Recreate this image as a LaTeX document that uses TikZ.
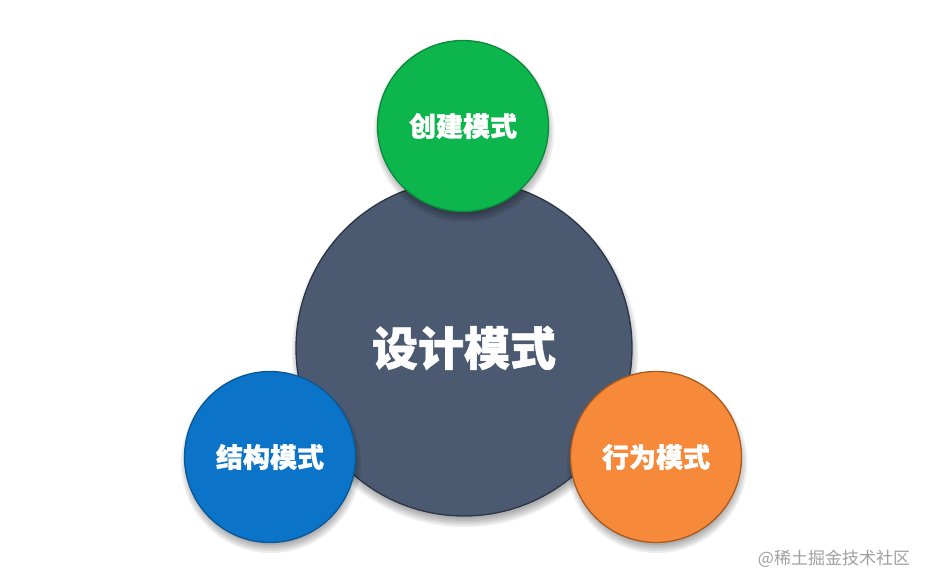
\documentclass[tikz,border=0pt]{standalone}
\usepackage{fontspec}
\newfontfamily\cjk{Noto Sans CJK SC}[BoldFeatures={FakeBold=1.2}]
\definecolor{cgrey}{HTML}{4B5A70}
\definecolor{cgreyedge}{HTML}{2A3646}
\definecolor{cgreen}{HTML}{0DB54D}
\definecolor{cgreenedge}{HTML}{0A8A3A}
\definecolor{cblue}{HTML}{0B74C8}
\definecolor{cblueedge}{HTML}{0A5796}
\definecolor{corange}{HTML}{F7893A}
\definecolor{corangeedge}{HTML}{A85A1C}
\definecolor{cmark}{HTML}{A0A0A0}
\tikzset{
  disc/.style={circle, inner sep=0pt, line width=1.3pt, text=white,
    font=\cjk\bfseries},
  bigdisc/.style={disc, minimum size=336pt, fill=cgrey, draw=cgreyedge, font=\cjk\bfseries\fontsize{46}{50}\selectfont},
  smalldisc/.style={disc, minimum size=171pt, font=\cjk\bfseries\fontsize{27}{30}\selectfont},
  shadowdisc/.style={fill=black, opacity=0.07},
}
\newcommand{\softshade}[3]{%
  \foreach \k in {0,2,4,6,8} {
    \fill[shadowdisc] (#1+1,#2+6) circle[radius=#3+\k];
  }%
}
\begin{document}
\begin{tikzpicture}[x=1pt,y=-1pt]
\useasboundingbox (0,0) rectangle (934,586);
\fill[white] (0,0) rectangle (934,586);
% central
\softshade{464}{348}{165}
\node[bigdisc] (main) at (464,348) {设计模式};
% top green
\softshade{463}{126}{82}
\node[smalldisc, fill=cgreen, draw=cgreenedge] (create) at (463,126) {创建模式};
% left blue
\softshade{270}{457}{82}
\node[smalldisc, fill=cblue, draw=cblueedge] (struct) at (270,457) {结构模式};
% right orange
\softshade{656}{457}{82}
\node[smalldisc, fill=corange, draw=corangeedge] (behav) at (656,457) {行为模式};
% watermark
\node[anchor=center, text=cmark, font=\cjk\fontsize{17}{20}\selectfont, inner sep=0pt] (mark) at (834,559) {@稀土掘金技术社区};
\end{tikzpicture}
\end{document}
